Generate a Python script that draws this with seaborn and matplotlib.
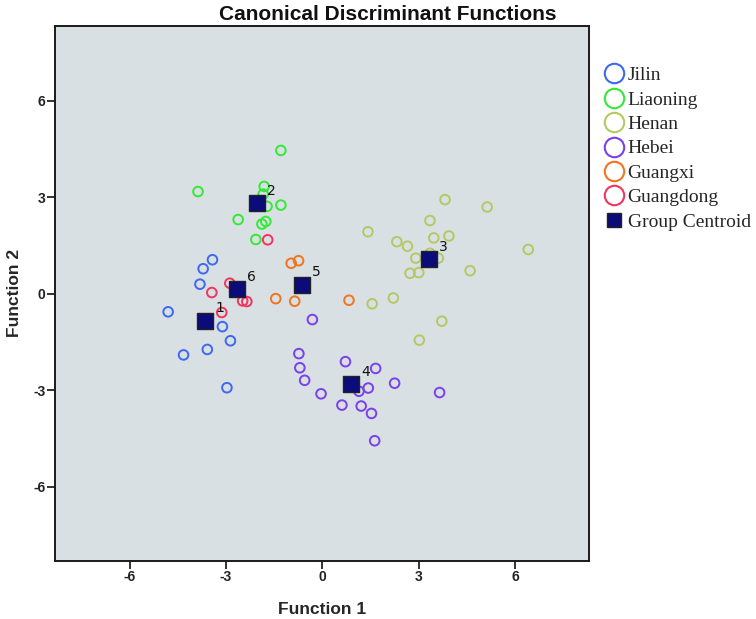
import pandas as pd
import seaborn as sns
import matplotlib.pyplot as plt
from matplotlib.lines import Line2D

# discriminant scores, one pair of lists per province
jilin_x = [-3.42, -3.71, -3.81, -4.80, -3.11, -2.86, -3.58, -4.32, -2.97]
jilin_y = [1.06, 0.78, 0.30, -0.56, -1.02, -1.46, -1.73, -1.90, -2.92]

liaoning_x = [-1.29, -3.87, -1.81, -1.84, -1.72, -1.29, -2.62, -1.88, -1.76, -2.07]
liaoning_y = [4.46, 3.18, 3.34, 3.10, 2.72, 2.76, 2.31, 2.17, 2.25, 1.69]

henan_x = [3.82, 5.13, 3.35, 1.42, 2.32, 2.65, 3.47, 3.94, 6.41, 2.91,
           3.35, 3.61, 2.73, 3.00, 4.60, 2.21, 1.55, 3.72, 3.02]
henan_y = [2.93, 2.70, 2.28, 1.93, 1.62, 1.48, 1.74, 1.80, 1.38, 1.11,
           1.26, 1.11, 0.64, 0.66, 0.72, -0.13, -0.31, -0.85, -1.44]

hebei_x = [-0.31, -0.73, -0.70, -0.55, -0.04, 0.72, 0.61, 1.21, 1.53, 1.43,
           1.14, 1.66, 2.25, 3.65, 1.63]
hebei_y = [-0.80, -1.86, -2.30, -2.69, -3.11, -2.11, -3.46, -3.49, -3.72, -2.93,
           -3.03, -2.32, -2.78, -3.07, -4.57]

guangxi_x = [-0.97, -0.74, -1.45, -0.86, 0.83]
guangxi_y = [0.95, 1.03, -0.15, -0.23, -0.20]

guangdong_x = [-1.70, -3.44, -2.88, -2.48, -2.35, -3.13]
guangdong_y = [1.68, 0.04, 0.33, -0.22, -0.24, -0.58]

provinces = ['Jilin', 'Liaoning', 'Henan', 'Hebei', 'Guangxi', 'Guangdong']
colors = ['#3d68f2', '#35e838', '#b5c864', '#7a40ec', '#f2741e', '#f0355e']

# group centroids, labelled 1..6
centroid_labels = ['1', '2', '3', '4', '5', '6']
centroid_x = [-3.64, -2.02, 3.33, 0.90, -0.63, -2.65]
centroid_y = [-0.83, 2.81, 1.08, -2.82, 0.29, 0.15]

xs = [jilin_x, liaoning_x, henan_x, hebei_x, guangxi_x, guangdong_x]
ys = [jilin_y, liaoning_y, henan_y, hebei_y, guangxi_y, guangdong_y]
rows = []
for name, px, py in zip(provinces, xs, ys):
    for a, b in zip(px, py):
        rows.append({'Province': name, 'Function 1': a, 'Function 2': b})
df = pd.DataFrame(rows)
df_cent = pd.DataFrame({'Group': centroid_labels, 'Function 1': centroid_x, 'Function 2': centroid_y})

sns.set_style('white')
plt.rcParams['font.family'] = ['Liberation Sans', 'DejaVu Sans']
plt.rcParams['axes.unicode_minus'] = False

fig = plt.figure(figsize=(7.56, 6.19), dpi=100)
ax = fig.add_axes([0.0728, 0.0942, 0.7067, 0.8638])
ax.set_facecolor('#d9e0e3')

sns.scatterplot(data=df, x='Function 1', y='Function 2', hue='Province',
                hue_order=provinces, palette=colors, s=48, legend=False, ax=ax)
# make the circles hollow
coll = ax.collections[0]
coll.set_edgecolors(coll.get_facecolors())
coll.set_facecolors('none')
coll.set_linewidths(1.4)

sns.scatterplot(data=df_cent, x='Function 1', y='Function 2', marker='s', s=120,
                color='#0b0b7a', edgecolor='#222222', linewidth=1.0, legend=False, ax=ax)
for lab, cx, cy in zip(centroid_labels, centroid_x, centroid_y):
    ax.annotate(lab, (cx, cy), xytext=(7, 6), textcoords='offset points',
                fontsize=10, color='#111111', family='DejaVu Sans')

ax.set_xlim(-8.32, 8.31)
ax.set_ylim(-8.3, 8.33)
ax.set_xticks([-6, -3, 0, 3, 6])
ax.set_yticks([-6, -3, 0, 3, 6])
ax.tick_params(axis='both', direction='out', length=5.5, width=1.3, color='#222222',
               labelsize=10, bottom=True, left=True, pad=1.5)
for lbl in ax.get_xticklabels() + ax.get_yticklabels():
    lbl.set_fontweight('bold')
    lbl.set_color('#222222')
for sp in ax.spines.values():
    sp.set_color('#1a1a1a')
    sp.set_linewidth(1.4)

ax.set_xlabel('Function 1', fontsize=12.5, fontweight='bold', labelpad=13)
ax.set_ylabel('Function 2', fontsize=12.5, fontweight='bold', labelpad=8)
fig.text(0.513, 1 - 14.5 / 619, 'Canonical Discriminant Functions', fontsize=15,
         fontweight='bold', ha='center', va='center', color='#111111')

handles = [Line2D([], [], linestyle='none', marker='o', markersize=14, markerfacecolor='none',
                  markeredgecolor=c, markeredgewidth=1.5) for c in colors]
handles.append(Line2D([], [], linestyle='none', marker='s', markersize=10.5,
                      markerfacecolor='#0b0b7a', markeredgecolor='#222222'))
fig.legend(handles, provinces + ['Group Centroid'], loc='upper left',
           bbox_to_anchor=(0.786, 0.905), frameon=False,
           prop={'family': 'Liberation Serif', 'size': 14},
           handletextpad=0.12, labelspacing=0.35, borderaxespad=0, handlelength=1.2)

fig.savefig('out.png', dpi=100)
